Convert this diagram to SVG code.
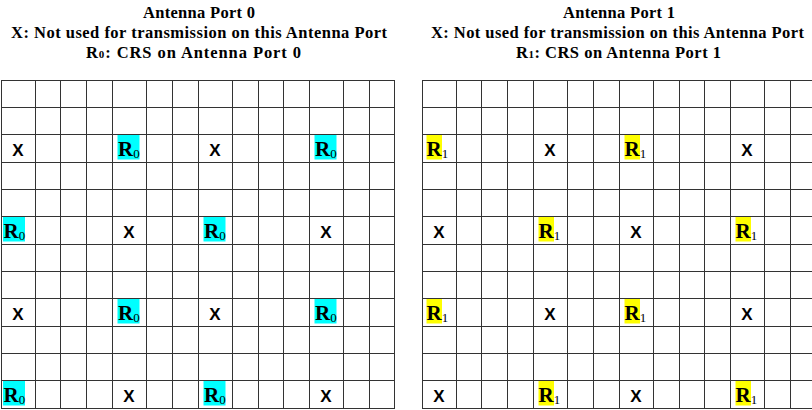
<svg xmlns="http://www.w3.org/2000/svg" width="812" height="410" viewBox="0 0 812 410">
<style>
.title{font-family:"Liberation Serif","Times New Roman",serif;font-weight:bold;font-size:16.5px;fill:#000}
.sub{font-size:11px}
.g line{stroke:#333;stroke-width:1}
.x{font-family:"Liberation Sans",Arial,sans-serif;font-weight:bold;font-size:17px;text-anchor:middle;fill:#000}
.r{font-family:"Liberation Serif","Times New Roman",serif;font-weight:bold;font-size:21px;fill:#000}
.rs{font-weight:normal;font-size:13px}
.c{fill:#00FFFF}
.y{fill:#FFFF00}
</style>
<rect width="812" height="410" fill="#fff"/>
<g id="title-left">
<text class="title" x="143" y="18" textLength="112" lengthAdjust="spacing">Antenna Port 0</text>
<text class="title" x="11" y="38" textLength="376" lengthAdjust="spacing">X: Not used for transmission on this Antenna Port</text>
<text class="title" x="86" y="58" textLength="215" lengthAdjust="spacing">R<tspan class="sub">0</tspan>: CRS on Antenna Port 0</text>
</g>
<g id="title-right">
<text class="title" x="563" y="18" textLength="112" lengthAdjust="spacing">Antenna Port 1</text>
<text class="title" x="431" y="38" textLength="373" lengthAdjust="spacing">X: Not used for transmission on this Antenna Port</text>
<text class="title" x="516" y="58" textLength="205" lengthAdjust="spacing">R<tspan class="sub">1</tspan>: CRS on Antenna Port 1</text>
</g>
<g id="grid-left" class="g">
<line x1="1.5" y1="80.5" x2="1.5" y2="408.5"/><line x1="35.5" y1="80.5" x2="35.5" y2="408.5"/><line x1="60.5" y1="80.5" x2="60.5" y2="408.5"/><line x1="86.5" y1="80.5" x2="86.5" y2="408.5"/><line x1="112.5" y1="80.5" x2="112.5" y2="408.5"/><line x1="146.5" y1="80.5" x2="146.5" y2="408.5"/><line x1="172.5" y1="80.5" x2="172.5" y2="408.5"/><line x1="198.5" y1="80.5" x2="198.5" y2="408.5"/><line x1="232.5" y1="80.5" x2="232.5" y2="408.5"/><line x1="258.5" y1="80.5" x2="258.5" y2="408.5"/><line x1="283.5" y1="80.5" x2="283.5" y2="408.5"/><line x1="309.5" y1="80.5" x2="309.5" y2="408.5"/><line x1="343.5" y1="80.5" x2="343.5" y2="408.5"/><line x1="369.5" y1="80.5" x2="369.5" y2="408.5"/><line x1="394.5" y1="80.5" x2="394.5" y2="408.5"/>
<line x1="1" y1="80.5" x2="395" y2="80.5"/><line x1="1" y1="107.5" x2="395" y2="107.5"/><line x1="1" y1="134.5" x2="395" y2="134.5"/><line x1="1" y1="162.5" x2="395" y2="162.5"/><line x1="1" y1="189.5" x2="395" y2="189.5"/><line x1="1" y1="216.5" x2="395" y2="216.5"/><line x1="1" y1="244.5" x2="395" y2="244.5"/><line x1="1" y1="271.5" x2="395" y2="271.5"/><line x1="1" y1="298.5" x2="395" y2="298.5"/><line x1="1" y1="326.5" x2="395" y2="326.5"/><line x1="1" y1="353.5" x2="395" y2="353.5"/><line x1="1" y1="380.5" x2="395" y2="380.5"/><line x1="1" y1="408.5" x2="395" y2="408.5"/>
</g>
<g id="grid-right" class="g">
<line x1="422.5" y1="80.5" x2="422.5" y2="408.5"/><line x1="456.5" y1="80.5" x2="456.5" y2="408.5"/><line x1="481.5" y1="80.5" x2="481.5" y2="408.5"/><line x1="507.5" y1="80.5" x2="507.5" y2="408.5"/><line x1="533.5" y1="80.5" x2="533.5" y2="408.5"/><line x1="567.5" y1="80.5" x2="567.5" y2="408.5"/><line x1="593.5" y1="80.5" x2="593.5" y2="408.5"/><line x1="619.5" y1="80.5" x2="619.5" y2="408.5"/><line x1="653.5" y1="80.5" x2="653.5" y2="408.5"/><line x1="679.5" y1="80.5" x2="679.5" y2="408.5"/><line x1="704.5" y1="80.5" x2="704.5" y2="408.5"/><line x1="730.5" y1="80.5" x2="730.5" y2="408.5"/><line x1="764.5" y1="80.5" x2="764.5" y2="408.5"/><line x1="790.5" y1="80.5" x2="790.5" y2="408.5"/>
<line x1="422" y1="80.5" x2="812" y2="80.5"/><line x1="422" y1="107.5" x2="812" y2="107.5"/><line x1="422" y1="134.5" x2="812" y2="134.5"/><line x1="422" y1="162.5" x2="812" y2="162.5"/><line x1="422" y1="189.5" x2="812" y2="189.5"/><line x1="422" y1="216.5" x2="812" y2="216.5"/><line x1="422" y1="244.5" x2="812" y2="244.5"/><line x1="422" y1="271.5" x2="812" y2="271.5"/><line x1="422" y1="298.5" x2="812" y2="298.5"/><line x1="422" y1="326.5" x2="812" y2="326.5"/><line x1="422" y1="353.5" x2="812" y2="353.5"/><line x1="422" y1="380.5" x2="812" y2="380.5"/><line x1="422" y1="408.5" x2="812" y2="408.5"/>
</g>
<!-- Left port 0 labels -->
<g id="L-r2-c0"><text class="x" x="18" y="156">X</text></g>
<g id="L-r2-c4"><rect class="c" x="117.5" y="135" width="22" height="24.5"/><text class="r" x="118" y="155.5">R<tspan class="rs" dy="2.5">0</tspan></text></g>
<g id="L-r2-c7"><text class="x" x="215" y="156">X</text></g>
<g id="L-r2-c11"><rect class="c" x="314.5" y="135" width="22" height="24.5"/><text class="r" x="315" y="155.5">R<tspan class="rs" dy="2.5">0</tspan></text></g>

<g id="L-r5-c0"><rect class="c" x="3" y="217" width="22" height="24.5"/><text class="r" x="3.5" y="237.5">R<tspan class="rs" dy="2.5">0</tspan></text></g>
<g id="L-r5-c4"><text class="x" x="129" y="238">X</text></g>
<g id="L-r5-c7"><rect class="c" x="203.5" y="217" width="22" height="24.5"/><text class="r" x="204" y="237.5">R<tspan class="rs" dy="2.5">0</tspan></text></g>
<g id="L-r5-c11"><text class="x" x="326" y="238">X</text></g>

<g id="L-r8-c0"><text class="x" x="18" y="320">X</text></g>
<g id="L-r8-c4"><rect class="c" x="117.5" y="299" width="22" height="24.5"/><text class="r" x="118" y="319.5">R<tspan class="rs" dy="2.5">0</tspan></text></g>
<g id="L-r8-c7"><text class="x" x="215" y="320">X</text></g>
<g id="L-r8-c11"><rect class="c" x="314.5" y="299" width="22" height="24.5"/><text class="r" x="315" y="319.5">R<tspan class="rs" dy="2.5">0</tspan></text></g>

<g id="L-r11-c0"><rect class="c" x="3" y="381" width="22" height="24.5"/><text class="r" x="3.5" y="401.5">R<tspan class="rs" dy="2.5">0</tspan></text></g>
<g id="L-r11-c4"><text class="x" x="129" y="402">X</text></g>
<g id="L-r11-c7"><rect class="c" x="203.5" y="381" width="22" height="24.5"/><text class="r" x="204" y="401.5">R<tspan class="rs" dy="2.5">0</tspan></text></g>
<g id="L-r11-c11"><text class="x" x="326" y="402">X</text></g>

<!-- Right port 1 labels -->
<g id="R-r2-c0"><rect class="y" x="426.5" y="135" width="15.5" height="24.5"/><text class="r" x="426.5" y="155.5">R<tspan class="rs" dy="2.5">1</tspan></text></g>
<g id="R-r2-c4"><text class="x" x="550" y="156">X</text></g>
<g id="R-r2-c7"><rect class="y" x="624.5" y="135" width="15.5" height="24.5"/><text class="r" x="624.5" y="155.5">R<tspan class="rs" dy="2.5">1</tspan></text></g>
<g id="R-r2-c11"><text class="x" x="747" y="156">X</text></g>

<g id="R-r5-c0"><text class="x" x="439" y="238">X</text></g>
<g id="R-r5-c4"><rect class="y" x="538.5" y="217" width="15.5" height="24.5"/><text class="r" x="538.5" y="237.5">R<tspan class="rs" dy="2.5">1</tspan></text></g>
<g id="R-r5-c7"><text class="x" x="636" y="238">X</text></g>
<g id="R-r5-c11"><rect class="y" x="735.5" y="217" width="15.5" height="24.5"/><text class="r" x="735.5" y="237.5">R<tspan class="rs" dy="2.5">1</tspan></text></g>

<g id="R-r8-c0"><rect class="y" x="426.5" y="299" width="15.5" height="24.5"/><text class="r" x="426.5" y="319.5">R<tspan class="rs" dy="2.5">1</tspan></text></g>
<g id="R-r8-c4"><text class="x" x="550" y="320">X</text></g>
<g id="R-r8-c7"><rect class="y" x="624.5" y="299" width="15.5" height="24.5"/><text class="r" x="624.5" y="319.5">R<tspan class="rs" dy="2.5">1</tspan></text></g>
<g id="R-r8-c11"><text class="x" x="747" y="320">X</text></g>

<g id="R-r11-c0"><text class="x" x="439" y="402">X</text></g>
<g id="R-r11-c4"><rect class="y" x="538.5" y="381" width="15.5" height="24.5"/><text class="r" x="538.5" y="401.5">R<tspan class="rs" dy="2.5">1</tspan></text></g>
<g id="R-r11-c7"><text class="x" x="636" y="402">X</text></g>
<g id="R-r11-c11"><rect class="y" x="735.5" y="381" width="15.5" height="24.5"/><text class="r" x="735.5" y="401.5">R<tspan class="rs" dy="2.5">1</tspan></text></g>
</svg>
